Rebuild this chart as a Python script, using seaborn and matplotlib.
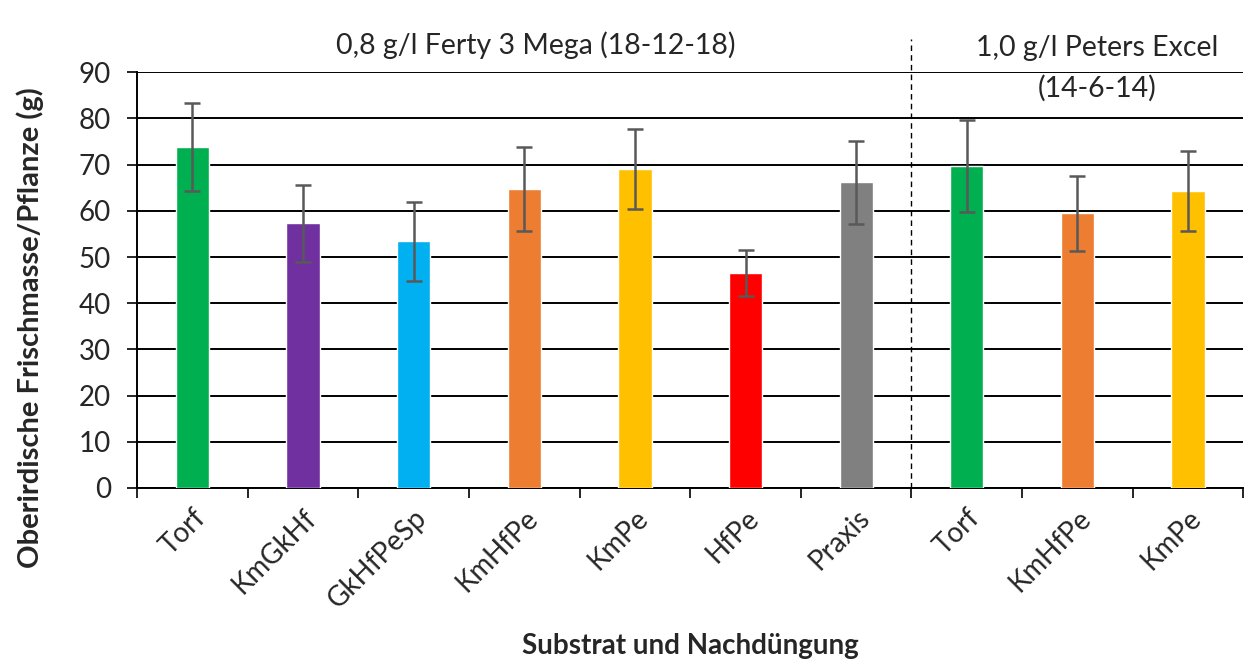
import numpy as np
import matplotlib.pyplot as plt
import seaborn as sns
import pandas as pd

# values
labels = ["Torf", "KmGkHf", "GkHfPeSp", "KmHfPe", "KmPe", "HfPe", "Praxis",
          "Torf", "KmHfPe", "KmPe"]
means = [73.8, 57.3, 53.4, 64.7, 69.0, 46.5, 66.2, 69.7, 59.5, 64.3]
errors = [9.6, 8.3, 8.5, 9.1, 8.7, 5.0, 9.0, 10.0, 8.1, 8.7]
colors = ["#00B050", "#7030A0", "#00B0F0", "#ED7D31", "#FFC000", "#FF0000",
          "#808080", "#00B050", "#ED7D31", "#FFC000"]
group_titles = ["0,8 g/l Ferty 3 Mega (18-12-18)", "1,0 g/l Peters Excel\n(14-6-14)"]

df = pd.DataFrame({"key": [str(i) for i in range(len(labels))], "value": means})

sns.set_style("white")
plt.rcParams["font.family"] = ["Lato", "DejaVu Sans"]

fig = plt.figure(figsize=(12.47, 6.63), dpi=100)
ax = fig.add_axes([0.110, 0.264, 0.887, 0.627])

sns.barplot(data=df, x="key", y="value", hue="key", palette=colors,
            saturation=1, width=0.3, legend=False, ax=ax, zorder=3)
ax.errorbar(np.arange(len(means)), means, yerr=errors, fmt="none",
            ecolor="#595959", elinewidth=1.8, capsize=6, capthick=1.8, zorder=4)

ax.set_ylim(0, 90)
ax.set_xlim(-0.5, len(labels) - 0.5)
ax.set_yticks(range(0, 91, 10))
ax.yaxis.grid(True, color="black", linewidth=1.4, zorder=0)
ax.set_axisbelow(True)

ax.set_xticks(np.arange(len(labels)))
ax.set_xticklabels(labels, rotation=45, ha="right", rotation_mode="anchor")
ax.set_xticks(np.arange(-0.5, len(labels)), minor=True)
ax.tick_params(axis="x", which="major", length=0, labelsize=20, pad=12)
ax.tick_params(axis="x", which="minor", length=7, width=1.2, direction="out",
               bottom=True, color="black")
ax.tick_params(axis="y", length=7, width=1.2, direction="out", left=True,
               labelsize=20, color="black", pad=12)

for s in ["top", "right"]:
    ax.spines[s].set_visible(False)
for s in ["left", "bottom"]:
    ax.spines[s].set_color("black")
    ax.spines[s].set_linewidth(1.4)

ax.set_ylabel("Oberirdische Frischmasse/Pflanze (g)", fontsize=21,
              fontweight="bold")
ax.yaxis.set_label_coords(-0.084, 0.385)
ax.set_xlabel("Substrat und Nachdüngung", fontsize=20, fontweight="bold",
              labelpad=14)

# separator between fertiliser groups
ax.axvline(6.5, ymin=0, ymax=1.08, color="black", linestyle=(0, (4, 3)),
           linewidth=1, clip_on=False, zorder=5)

ax.text(0.36, 1.065, group_titles[0], transform=ax.transAxes, ha="center",
        va="center", fontsize=20.5)
ax.text(0.868, 1.09, group_titles[1], transform=ax.transAxes, ha="center",
        va="top", fontsize=20.5, linespacing=1.62)

fig.savefig("out.png", dpi=100)
